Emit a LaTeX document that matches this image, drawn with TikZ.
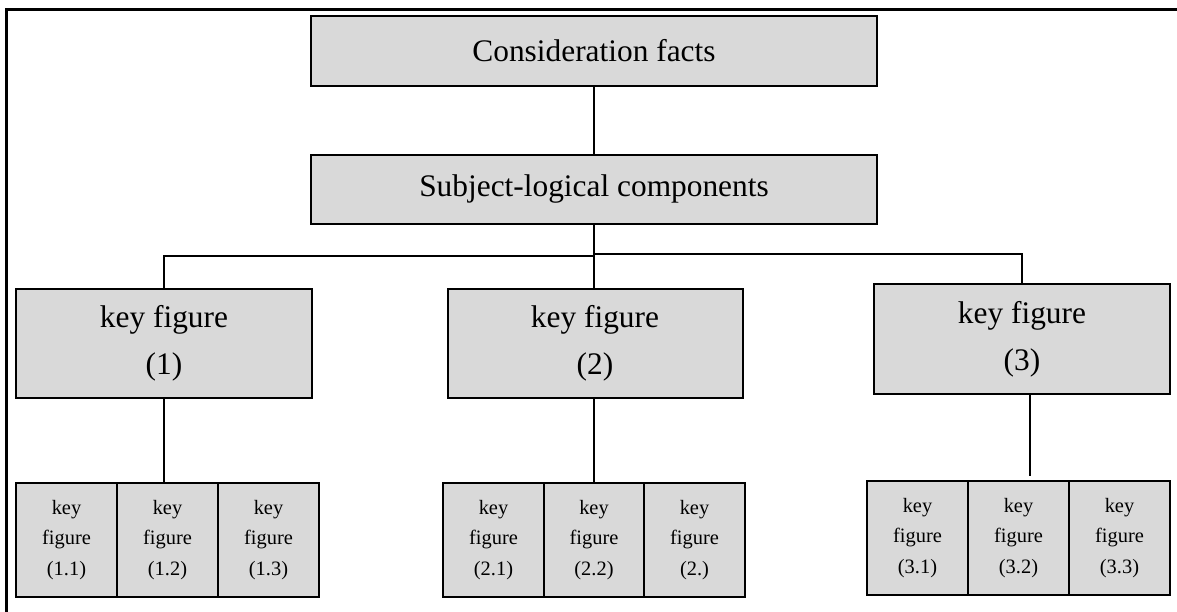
\documentclass[tikz,border=0pt]{standalone}
\usepackage{fontspec}
\setmainfont{Liberation Serif}
\definecolor{boxgray}{RGB}{217,217,217}
\begin{document}
\begin{tikzpicture}[x=1bp,y=-1bp,
  box/.style={draw=black,fill=boxgray,line width=2bp,inner sep=0pt,outer sep=0pt,align=center},
  bigbox/.style={box,font=\fontsize{31.5}{47}\selectfont},
  smallbox/.style={box,minimum width=101bp,minimum height=114bp,font=\fontsize{20.5}{30.5}\selectfont},
  conn/.style={line width=2bp},
  frame/.style={line width=3bp}]
\useasboundingbox (0,0) rectangle (1177,612);
\draw[frame] (6.5,612) -- (6.5,9.5) -- (1177,9.5);

\node[bigbox,minimum width=566bp,minimum height=70bp] (top) at (594,51) {Consideration facts};
\node[bigbox,minimum width=566bp,minimum height=69bp] (subj) at (594,189.5) {Subject-logical components};
\node[bigbox,minimum width=296bp,minimum height=109bp] (k1) at (164,343.5) {key figure\\(1)};
\node[bigbox,minimum width=295bp,minimum height=109bp] (k2) at (595,343.5) {key figure\\(2)};
\node[bigbox,minimum width=296bp,minimum height=110bp] (k3) at (1022,339) {key figure\\(3)};

\node[smallbox] (s11) at (66.5,540) {key\\figure\\(1.1)};
\node[smallbox] (s12) at (167.5,540) {key\\figure\\(1.2)};
\node[smallbox] (s13) at (268.5,540) {key\\figure\\(1.3)};

\node[smallbox] (s21) at (493.5,540) {key\\figure\\(2.1)};
\node[smallbox] (s22) at (594,540) {key\\figure\\(2.2)};
\node[smallbox] (s23) at (694.5,540) {key\\figure\\(2.)};

\node[smallbox] (s31) at (917.5,538) {key\\figure\\(3.1)};
\node[smallbox] (s32) at (1018.5,538) {key\\figure\\(3.2)};
\node[smallbox] (s33) at (1119.5,538) {key\\figure\\(3.3)};

\coordinate (jl) at (594,256);
\coordinate (jr) at (594,254);
\coordinate (c3) at (1029.5,476);

\draw[conn] (top.south) -- (subj.north);
\draw[conn] (subj.south) -- (subj.south |- k2.north);
\draw[conn] (jl) -| (k1.north);
\draw[conn] (jr) -| (k3.north);
\draw[conn] (k1.south) -- (k1.south |- s12.north);
\draw[conn] (k2.south -| s22.north) -- (s22.north);
\draw[conn] (k3.south -| c3) -- (c3);
\end{tikzpicture}
\end{document}
